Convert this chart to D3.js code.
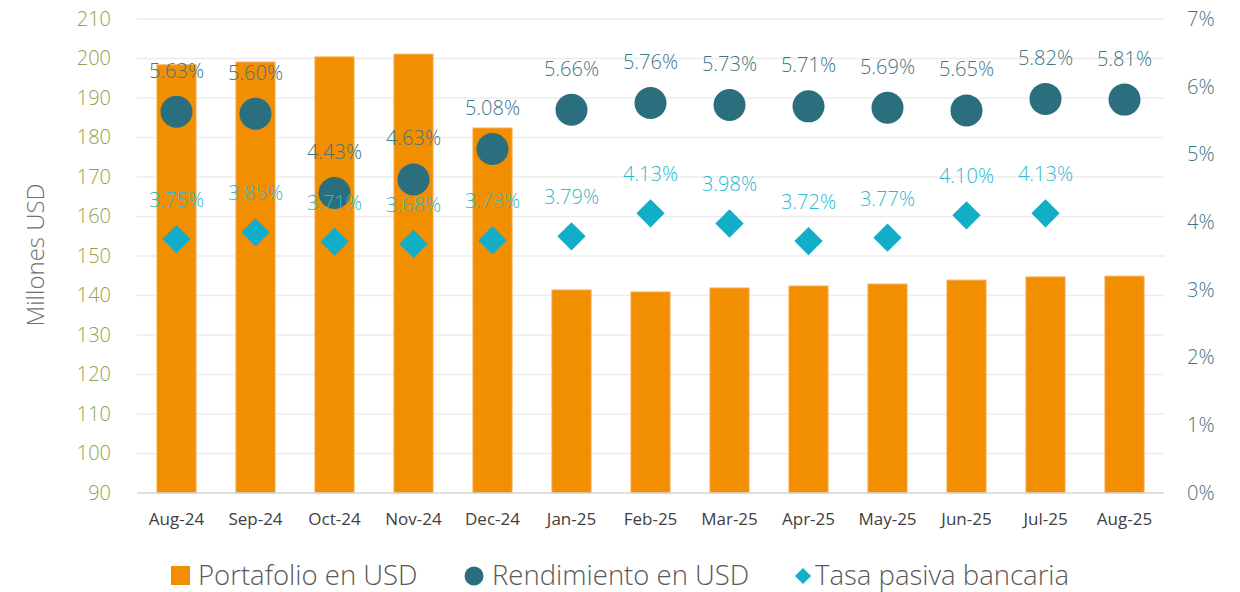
<!DOCTYPE html>
<html><head><meta charset="utf-8">
<script src="https://cdn.jsdelivr.net/npm/d3@7"></script>
<style>body{margin:0;background:#fff;} text{font-family:"Open Sans",sans-serif;font-weight:300;}</style>
</head><body><svg id="c" width="1240" height="592"></svg>
<script>
const categories = ["Aug-24","Sep-24","Oct-24","Nov-24","Dec-24","Jan-25","Feb-25","Mar-25","Apr-25","May-25","Jun-25","Jul-25","Aug-25"];
const portafolio = [198.4,199.1,200.4,201.1,182.4,141.4,140.9,141.9,142.4,142.9,143.9,144.7,144.9];
const rendimiento = [5.63,5.60,4.43,4.63,5.08,5.66,5.76,5.73,5.71,5.69,5.65,5.82,5.81];
const tasa = [3.75,3.85,3.71,3.68,3.73,3.79,4.13,3.98,3.72,3.77,4.10,4.13,null];
const leftTicks = [90,100,110,120,130,140,150,160,170,180,190,200,210];
const rightTicks = [0,1,2,3,4,5,6,7];
const legendItems = ["Portafolio en USD","Rendimiento en USD","Tasa pasiva bancaria"];

const svg = d3.select("#c");
const L=137, R=1164, T=19, B=493;
const x = d3.scaleBand().domain(categories).range([L,R]).paddingInner(0.505).paddingOuter(0.2525);
const y = d3.scaleLinear().domain([90,210]).range([B,T]);
const y2 = d3.scaleLinear().domain([0,7]).range([B,T]);

// gridlines
svg.append("g").selectAll("line").data(leftTicks.slice(1)).join("line")
  .attr("x1",L).attr("x2",R).attr("y1",d=>y(d)).attr("y2",d=>y(d))
  .attr("stroke","#ececec").attr("stroke-width",1.5);

// left axis
const la = svg.append("g").attr("transform",`translate(${L},0)`)
  .call(d3.axisLeft(y).tickValues(leftTicks).tickSize(0).tickPadding(26));
la.select(".domain").remove();
la.selectAll("text").attr("fill","#94a050").style("font-size","20px");

// right axis
const ra = svg.append("g").attr("transform",`translate(${R},0)`)
  .call(d3.axisRight(y2).tickValues(rightTicks).tickFormat(d=>d+"%").tickSize(0).tickPadding(23));
ra.select(".domain").remove();
ra.selectAll("text").attr("fill","#417684").style("font-size","20px");

// bars
svg.append("g").selectAll("rect").data(portafolio).join("rect")
  .attr("x",(d,i)=>x(categories[i])).attr("width",x.bandwidth())
  .attr("y",d=>y(d)).attr("height",d=>B-y(d))
  .attr("fill","#f28f00").attr("stroke","#f5ad55").attr("stroke-width",1);

// baseline
svg.append("line").attr("x1",L).attr("x2",R).attr("y1",B).attr("y2",B).attr("stroke","#d4d4d4").attr("stroke-width",1.5);

// x axis
const xa = svg.append("g").attr("transform",`translate(0,${B})`)
  .call(d3.axisBottom(x).tickSize(0).tickPadding(20));
xa.select(".domain").remove();
xa.selectAll("text").attr("fill","#404040").style("font-size","17px").style("font-weight","400");

const cx = i => x(categories[i]) + x.bandwidth()/2;

// diamonds
const tasaIdx = tasa.map((d,i)=>({d,i})).filter(o=>o.d!=null);
svg.append("g").selectAll("path").data(tasaIdx).join("path")
  .attr("d",d3.symbol().type(d3.symbolSquare).size(400))
  .attr("transform",o=>`translate(${cx(o.i)},${y2(o.d)}) rotate(45)`)
  .attr("fill","#12aec7");

// circles
svg.append("g").selectAll("circle").data(rendimiento).join("circle")
  .attr("cx",(d,i)=>cx(i)).attr("cy",d=>y2(d)).attr("r",16)
  .attr("fill","#2b6e7e");

// labels
svg.append("g").selectAll("text").data(tasaIdx).join("text")
  .attr("x",o=>cx(o.i)).attr("y",o=>y2(o.d)-32).attr("text-anchor","middle")
  .attr("fill","#2fb8d0").style("font-size","20px").text(o=>o.d.toFixed(2)+"%");
svg.append("g").selectAll("text").data(rendimiento).join("text")
  .attr("x",(d,i)=>cx(i)).attr("y",d=>y2(d)-34).attr("text-anchor","middle")
  .attr("fill","#417684").style("font-size","20px").text(d=>d.toFixed(2)+"%");

// axis title
svg.append("text").attr("transform","translate(44,255) rotate(-90)").attr("text-anchor","middle")
  .attr("fill","#6f6f6f").style("font-size","24px").text("Millones USD");

// legend
const lg = svg.append("g");
lg.append("rect").attr("x",171).attr("y",566).attr("width",19).attr("height",19).attr("fill","#f28f00");
lg.append("circle").attr("cx",474).attr("cy",576).attr("r",9.5).attr("fill","#2b6e7e");
lg.append("path").attr("d",d3.symbol().type(d3.symbolSquare).size(130)).attr("transform","translate(803,576) rotate(45)").attr("fill","#12aec7");
const lx=[198,492,815];
lg.selectAll("text.l").data(legendItems).join("text").attr("class","l")
  .attr("x",(d,i)=>lx[i]).attr("y",585).attr("fill","#595959").style("font-size","27.5px").text(d=>d);
</script></body></html>
